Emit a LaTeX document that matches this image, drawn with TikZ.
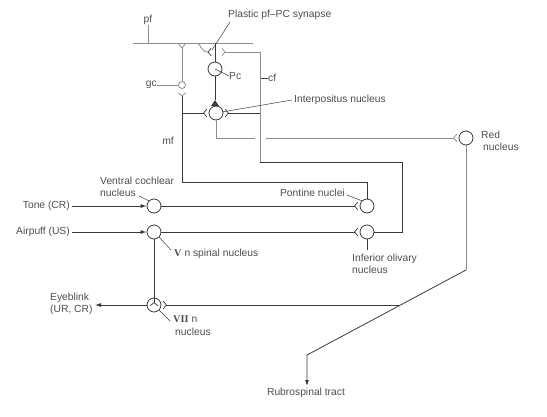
\documentclass[tikz,border=0pt]{standalone}
\usepackage{fontspec}
\setmainfont{Liberation Sans}
\newfontfamily\romfont{Liberation Serif}
\usetikzlibrary{arrows.meta}
\definecolor{ink}{HTML}{3A3A3A}
\definecolor{gry}{HTML}{8C8C8C}
\definecolor{txt}{HTML}{4D4D4D}
\newcommand{\chevr}[3][ink]{\draw[draw=#1,line width=0.7pt,shift={(#2)},rotate=#3] (50:5) -- (0,0) -- (-50:5);}
\begin{document}
\begin{tikzpicture}[x=1pt,y=-1pt,
  cell/.style={circle,draw=ink,line width=0.8pt,minimum size=14pt,inner sep=0pt},
  dk/.style={draw=ink,line width=0.8pt},
  gr/.style={draw=gry,line width=0.8pt},
  lbl/.style={text=txt,font=\fontsize{10.3}{12.3}\selectfont,inner sep=0pt},
  ptr/.style={draw=ink,line width=0.5pt},
  arr/.style={-{Latex[length=6pt,width=4pt]}}
]
\useasboundingbox (0,0) rectangle (547,416);

% cells
\node[cell] (pc) at (215,69) {};
\node[cell] (ip) at (216,113) {};
\node[cell,draw=gry,minimum size=7pt] (gc) at (182,85) {};
\node[cell] (red) at (466,138) {};
\node[cell] (vcn) at (154,206) {};
\node[cell] (vn) at (154,232) {};
\node[cell] (pn) at (367,206) {};
\node[cell] (io) at (367,232) {};
\node[cell] (vii) at (154,305) {};

% labels
\node[lbl] (pfl) at (148,20) {pf};
\node[lbl,anchor=west] (plast) at (228,15) {Plastic pf\textendash PC synapse};
\node[lbl,anchor=east] (gcl) at (157,85) {gc};
\node[lbl,anchor=west] (pcl) at (229,76) {Pc};
\node[lbl,anchor=west] (cfl) at (268,78) {cf};
\node[lbl,anchor=west] (ipl) at (294,100) {Interpositus nucleus};
\node[lbl] (mfl) at (168,141) {mf};
\node[lbl,anchor=north west,align=left] (redl) at (481,131) {Red\\\hspace*{2pt}nucleus};
\node[lbl,anchor=south west,align=left] (vcnl) at (100,197) {Ventral cochlear\\nucleus};
\node[lbl,anchor=east] (tone) at (70,206) {Tone (CR)};
\node[lbl,anchor=east] (puff) at (70,232) {Airpuff (US)};
\node[lbl,anchor=west] (vnl) at (174,254) {{\romfont\bfseries V} n spinal nucleus};
\node[lbl,anchor=east] (pnl) at (345,193) {Pontine nuclei};
\node[lbl,anchor=north west,align=left] (iol) at (352,254) {Inferior olivary\\nucleus};
\node[lbl,anchor=west,align=left] (eye) at (50,304) {Eyeblink\\(UR, CR)};
\node[lbl,anchor=north west,align=left] (viil) at (173,316) {{\romfont\bfseries VII} n\\\hspace*{2pt}nucleus};
\node[lbl] (rub) at (306,393) {Rubrospinal tract};

% coordinates
\coordinate (pfL) at (133,43);
\coordinate (pfR) at (253,43);
\coordinate (gcTop) at (182,48);
\coordinate (mfT) at (182,96);
\coordinate (plT) at (208,52);
\coordinate (cfT) at (225,52);
\coordinate (ipL) at ([xshift=-5pt]ip.west);
\coordinate (ipR) at ([xshift=5pt]ip.east);
\coordinate (redT) at ([xshift=-5pt]red.west);
\coordinate (pnT) at ([xshift=-5pt]pn.west);
\coordinate (ioT) at ([xshift=-5pt]io.west);
\coordinate (viiT) at ([yshift=-5pt]vii.north);
\coordinate (viiR) at ([xshift=5pt]vii.east);
\coordinate (rubT) at (307,386);
\coordinate (triTop) at (215,100);

% parallel fibre and granule cell
\draw[gr] (pfL) -- (pfR);
\draw[gr] (pfl.south) -- (148,43);
\draw[gr] (gc.north) -- (gcTop);
\draw[gr] (178,43) -- (gcTop) -- (186,43);
\draw[gr] (gcl.east) -- (gc.west);
\chevr[gry]{mfT}{90}

% mossy fibres
\draw[dk] (mfT) -- (182,182) -- (367,182) -- (pn.north);
\draw[dk] (182,113) -- (ipL);
\chevr{ipL}{0}

% Purkinje cell
\draw[dk] (pc.north) -- (215,43);
\draw[dk] (pc.south) -- (triTop);
\fill[ink] (triTop) -- (219,106) -- (211,106) -- cycle;
\draw[gr] (197,43) .. controls (201,44) and (201,52) .. (plT);
\chevr{plT}{0}
\chevr[gry]{cfT}{180}

% climbing fibre
\draw[gr] (cfT) -- (260,52) -- (260,162);
\draw[dk] (260,162) -- (402,162) -- (402,232) -- (io.east);
\draw[dk] (260,113) -- (ipR);
\chevr{ipR}{180}
\draw[ptr] (261,78) -- (cfl.west);

% interpositus to red nucleus
\draw[gr] (ip.south) -- (216,138) -- (255,138);
\draw[gr] (266,138) -- (redT);
\chevr[gry]{redT}{0}
\draw[gr] (red.south) -- (466,270);
\draw[dk,arr] (466,270) -- (307,355) -- (rubT);

% brainstem
\draw[dk,arr] (tone.east) ++(2,0) -- (vcn.west);
\draw[dk,arr] (puff.east) ++(2,0) -- (vn.west);
\draw[dk] (vcn.east) -- (pnT);
\chevr{pnT}{0}
\draw[dk] (vn.east) -- (ioT);
\chevr{ioT}{0}
\draw[dk] (vn.south) -- (viiT);
\chevr{viiT}{270}
\draw[dk] (viiR) -- (400,305);
\chevr{viiR}{180}
\draw[dk,arr] (vii.west) -- (95,305);

% pointers
\draw[ptr] (230,22) -- (212,50);
\draw[ptr] (pc.center) -- (pcl.west);
\draw[ptr] (ipl.west) ++(-2,0) -- (222,112);
\draw[ptr] (139,196) -- (vcn.north west);
\draw[ptr] (vn.south east) -- (171,250);
\draw[ptr] (pnl.east) ++(2,2) -- (pn.north west);
\draw[ptr] (io.south) -- (367,250);
\draw[ptr] (vii.south east) -- (170,321);
\end{tikzpicture}
\end{document}
